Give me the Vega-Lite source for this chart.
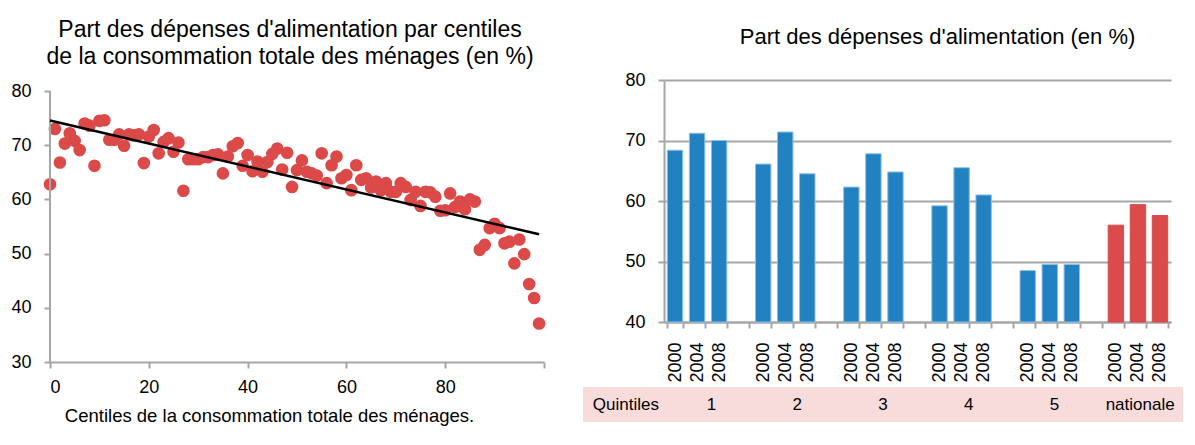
{
  "$schema": "https://vega.github.io/schema/vega-lite/v6.json",
  "background": "white",
  "padding": {"left": 10, "top": 19, "right": 5, "bottom": 5},
  "config": {
    "font": "Liberation Sans",
    "view": {"stroke": null},
    "axis": {"labelFont": "Liberation Sans", "labelColor": "black", "labelFontSize": 18, "domainColor": "#a6a6a6", "domainWidth": 2, "tickColor": "#a6a6a6", "tickWidth": 2, "tickSize": 6, "grid": false},
    "title": {"font": "Liberation Sans", "fontWeight": "normal", "fontSize": 22, "color": "black"}
  },
  "datasets": {
    "centiles": [
      {"centile": 0, "part": 62.8}, {"centile": 1, "part": 73.0}, {"centile": 2, "part": 66.8}, {"centile": 3, "part": 70.3}, {"centile": 4, "part": 72.2},
      {"centile": 5, "part": 70.8}, {"centile": 6, "part": 69.1}, {"centile": 7, "part": 74.0}, {"centile": 8, "part": 73.6}, {"centile": 9, "part": 66.2},
      {"centile": 10, "part": 74.5}, {"centile": 11, "part": 74.6}, {"centile": 12, "part": 71.0}, {"centile": 13, "part": 71.0}, {"centile": 14, "part": 72.0},
      {"centile": 15, "part": 69.9}, {"centile": 16, "part": 72.0}, {"centile": 17, "part": 71.8}, {"centile": 18, "part": 72.0}, {"centile": 19, "part": 66.7},
      {"centile": 20, "part": 71.6}, {"centile": 21, "part": 72.8}, {"centile": 22, "part": 68.5}, {"centile": 23, "part": 70.6}, {"centile": 24, "part": 71.3},
      {"centile": 25, "part": 68.8}, {"centile": 26, "part": 70.5}, {"centile": 27, "part": 61.6}, {"centile": 28, "part": 67.4}, {"centile": 29, "part": 67.4},
      {"centile": 30, "part": 67.4}, {"centile": 31, "part": 67.8}, {"centile": 32, "part": 67.8}, {"centile": 33, "part": 68.2}, {"centile": 34, "part": 68.3},
      {"centile": 35, "part": 64.8}, {"centile": 36, "part": 67.9}, {"centile": 37, "part": 69.8}, {"centile": 38, "part": 70.4}, {"centile": 39, "part": 66.2},
      {"centile": 40, "part": 68.2}, {"centile": 41, "part": 65.2}, {"centile": 42, "part": 67.0}, {"centile": 43, "part": 65.1}, {"centile": 44, "part": 66.9},
      {"centile": 45, "part": 68.4}, {"centile": 46, "part": 69.4}, {"centile": 47, "part": 65.5}, {"centile": 48, "part": 68.6}, {"centile": 49, "part": 62.3},
      {"centile": 50, "part": 65.4}, {"centile": 51, "part": 67.2}, {"centile": 52, "part": 65.1}, {"centile": 53, "part": 64.8}, {"centile": 54, "part": 64.4},
      {"centile": 55, "part": 68.5}, {"centile": 56, "part": 63.0}, {"centile": 57, "part": 66.3}, {"centile": 58, "part": 67.9}, {"centile": 59, "part": 63.9},
      {"centile": 60, "part": 64.5}, {"centile": 61, "part": 61.7}, {"centile": 62, "part": 66.3}, {"centile": 63, "part": 63.6}, {"centile": 64, "part": 63.9},
      {"centile": 65, "part": 62.2}, {"centile": 66, "part": 63.3}, {"centile": 67, "part": 61.7}, {"centile": 68, "part": 63.0}, {"centile": 69, "part": 61.4},
      {"centile": 70, "part": 61.4}, {"centile": 71, "part": 63.0}, {"centile": 72, "part": 62.3}, {"centile": 73, "part": 59.9}, {"centile": 74, "part": 61.4},
      {"centile": 75, "part": 58.8}, {"centile": 76, "part": 61.4}, {"centile": 77, "part": 61.3}, {"centile": 78, "part": 60.5}, {"centile": 79, "part": 57.9},
      {"centile": 80, "part": 58.0}, {"centile": 81, "part": 61.1}, {"centile": 82, "part": 58.6}, {"centile": 83, "part": 59.6}, {"centile": 84, "part": 58.2},
      {"centile": 85, "part": 60.0}, {"centile": 86, "part": 59.6}, {"centile": 87, "part": 50.7}, {"centile": 88, "part": 51.6}, {"centile": 89, "part": 54.7},
      {"centile": 90, "part": 55.5}, {"centile": 91, "part": 54.7}, {"centile": 92, "part": 51.9}, {"centile": 93, "part": 52.2}, {"centile": 94, "part": 48.2},
      {"centile": 95, "part": 52.6}, {"centile": 96, "part": 49.9}, {"centile": 97, "part": 44.4}, {"centile": 98, "part": 41.8}, {"centile": 99, "part": 37.1}
    ],
    "bars": [
      {"slot": "1-2000", "group": "1", "value": 68.4}, {"slot": "1-2004", "group": "1", "value": 71.2}, {"slot": "1-2008", "group": "1", "value": 70.0},
      {"slot": "2-2000", "group": "2", "value": 66.1}, {"slot": "2-2004", "group": "2", "value": 71.4}, {"slot": "2-2008", "group": "2", "value": 64.5},
      {"slot": "3-2000", "group": "3", "value": 62.3}, {"slot": "3-2004", "group": "3", "value": 67.8}, {"slot": "3-2008", "group": "3", "value": 64.8},
      {"slot": "4-2000", "group": "4", "value": 59.2}, {"slot": "4-2004", "group": "4", "value": 65.5}, {"slot": "4-2008", "group": "4", "value": 61.0},
      {"slot": "5-2000", "group": "5", "value": 48.5}, {"slot": "5-2004", "group": "5", "value": 49.5}, {"slot": "5-2008", "group": "5", "value": 49.5},
      {"slot": "N-2000", "group": "nationale", "value": 56.0}, {"slot": "N-2004", "group": "nationale", "value": 59.4}, {"slot": "N-2008", "group": "nationale", "value": 57.6}
    ],
    "band": [
      {"label": "Quintiles"}, {"label": "1"}, {"label": "2"}, {"label": "3"}, {"label": "4"}, {"label": "5"}, {"label": "nationale"}
    ]
  },
  "spacing": 37,
  "hconcat": [
    {
      "width": 494,
      "height": 282,
      "title": {"text": ["Part des dépenses d'alimentation par centiles", "de la consommation totale des ménages (en %)"], "fontSize": 23, "lineHeight": 27, "offset": 11, "dx": -7},
      "layer": [
        {
          "data": {"name": "centiles"},
          "mark": {"type": "circle", "size": 160, "color": "#DB4A48", "opacity": 1},
          "encoding": {
            "x": {"field": "centile", "type": "quantitative", "scale": {"domain": [0, 100], "nice": false},
                  "axis": {"values": [0, 20, 40, 60, 80, 100], "labelExpr": "datum.value == 100 ? '' : datum.label", "labelPadding": 10,
                           "title": "Centiles de la consommation totale des ménages.", "titleFontSize": 18.5, "titleFontWeight": "normal", "titleColor": "black", "titlePadding": 10, "titleFont": "Liberation Sans", "titleX": 219}},
            "y": {"field": "part", "type": "quantitative", "scale": {"domain": [30, 82.03], "nice": false},
                  "axis": {"values": [30, 40, 50, 60, 70, 80], "title": null, "labelPadding": 13, "domain": false}}
          }
        },
        {
          "data": {"name": "centiles"},
          "mark": {"type": "rule", "color": "#a6a6a6", "strokeWidth": 2},
          "encoding": {
            "x": {"datum": 0, "type": "quantitative"},
            "y": {"datum": 30, "type": "quantitative"},
            "y2": {"datum": 80}
          }
        },
        {
          "data": {"name": "centiles"},
          "transform": [{"regression": "part", "on": "centile", "extent": [0, 99]}],
          "mark": {"type": "line", "color": "black", "strokeWidth": 2.5},
          "encoding": {
            "x": {"field": "centile", "type": "quantitative"},
            "y": {"field": "part", "type": "quantitative"}
          }
        }
      ]
    },
    {
      "spacing": 4,
      "vconcat": [
        {
          "spacing": 0,
          "hconcat": [
            {
              "width": 1,
              "height": 242,
              "data": {"values": []},
              "mark": "point",
              "encoding": {}
            },
            {
              "width": 507,
              "height": 242,
              "data": {"name": "bars"},
              "title": {"text": "Part des dépenses d'alimentation (en %)", "dx": 20, "offset": 22},
              "mark": {"type": "bar", "strokeWidth": 1},
              "encoding": {
                "x": {"field": "slot", "type": "nominal",
                      "scale": {"domain": ["1-2000", "1-2004", "1-2008", "g1", "2-2000", "2-2004", "2-2008", "g2", "3-2000", "3-2004", "3-2008", "g3", "4-2000", "4-2004", "4-2008", "g4", "5-2000", "5-2004", "5-2008", "g5", "N-2000", "N-2004", "N-2008"], "paddingInner": 0.3, "paddingOuter": 0.15},
                      "axis": {"title": null, "labelAngle": -90, "labelPadding": 14, "tickBand": "extent", "labelExpr": "split(datum.label, '-')[1] || ''"}},
                "y": {"field": "value", "type": "quantitative", "scale": {"domain": [40, 80], "nice": false},
                      "axis": {"values": [40, 50, 60, 70, 80], "title": null, "grid": true, "gridColor": "#a6a6a6", "gridWidth": 2, "labelPadding": 13, "minExtent": 80}},
                "y2": {"datum": 40},
                "color": {"field": "group", "type": "nominal", "legend": null,
                          "scale": {"domain": ["1", "2", "3", "4", "5", "nationale"], "range": ["#2181C1", "#2181C1", "#2181C1", "#2181C1", "#2181C1", "#DB4B4B"]}},
                "stroke": {"field": "group", "type": "nominal", "legend": null,
                           "scale": {"domain": ["1", "2", "3", "4", "5", "nationale"], "range": ["#8DC0E8", "#8DC0E8", "#8DC0E8", "#8DC0E8", "#8DC0E8", "#DB4B4B"]}}
              }
            }
          ]
        },
        {
          "width": 600,
          "height": 35,
          "view": {"fill": "#F8DCDC", "stroke": null},
          "data": {"name": "band"},
          "mark": {"type": "text", "fontSize": 17, "color": "black", "baseline": "middle"},
          "encoding": {
            "x": {"field": "label", "type": "nominal", "sort": null, "axis": null,
                  "scale": {"domain": ["Quintiles", "1", "2", "3", "4", "5", "nationale"]}},
            "text": {"field": "label"}
          }
        }
      ]
    }
  ]
}
